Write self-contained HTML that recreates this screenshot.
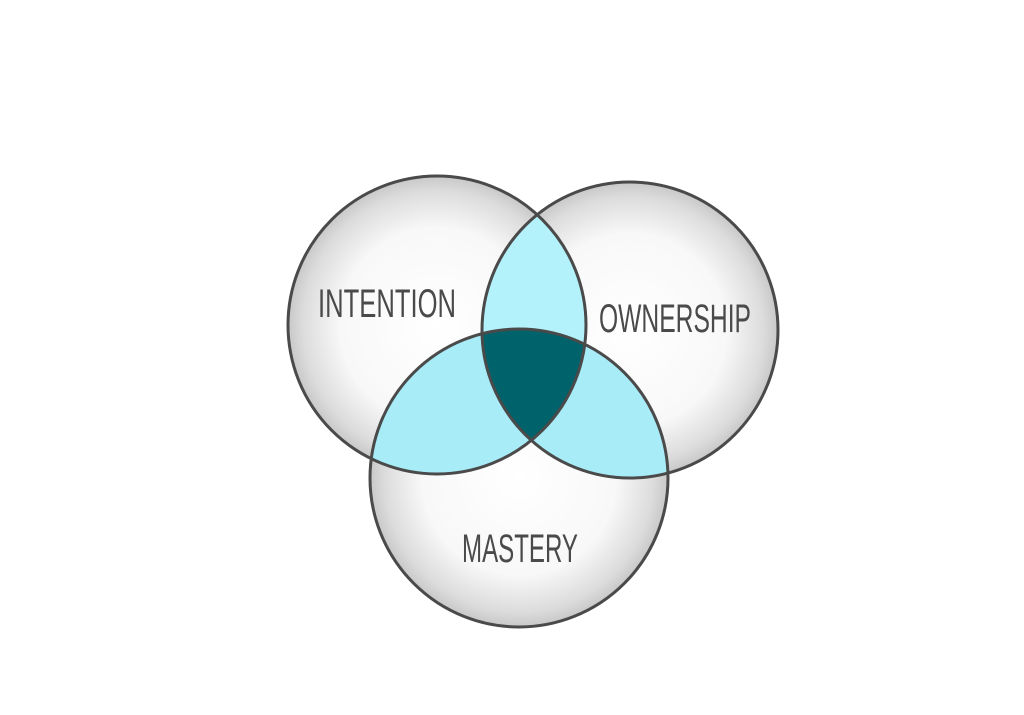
<!DOCTYPE html>
<html><head><meta charset="utf-8"><style>html,body{margin:0;padding:0;background:#fff}svg{display:block}</style></head>
<body>
<svg width="1024" height="715" viewBox="0 0 1024 715" xmlns="http://www.w3.org/2000/svg">
<defs>
<radialGradient id="g" cx="50%" cy="50%" r="50%">
<stop offset="0" stop-color="#ffffff"/><stop offset="0.65" stop-color="#f8f8f8"/><stop offset="0.9" stop-color="#dcdcdc"/><stop offset="1" stop-color="#c8c8c8"/>
</radialGradient>
<clipPath id="cA"><circle cx="437" cy="325" r="149"/></clipPath>
<clipPath id="cB"><circle cx="630" cy="330" r="148"/></clipPath>
<clipPath id="cC"><circle cx="519" cy="478" r="149"/></clipPath>
</defs>
<circle cx="437" cy="325" r="149" fill="url(#g)"/>
<circle cx="630" cy="330" r="148" fill="url(#g)"/>
<circle cx="519" cy="478" r="149" fill="url(#g)"/>
<g clip-path="url(#cA)"><circle cx="630" cy="330" r="148" fill="#b3f1fb"/><circle cx="519" cy="478" r="149" fill="#a8ecf8"/></g>
<g clip-path="url(#cB)"><circle cx="519" cy="478" r="149" fill="#a8ecf8"/></g>
<g clip-path="url(#cA)"><g clip-path="url(#cB)"><circle cx="519" cy="478" r="149" fill="#00626a"/></g></g>
<g fill="none" stroke="#4a4a4a" stroke-width="3">
<circle cx="437" cy="325" r="149"/><circle cx="630" cy="330" r="148"/><circle cx="519" cy="478" r="149"/>
</g>
<g font-family="Liberation Sans, sans-serif" fill="#4a4a4a" font-size="40" text-anchor="middle">
<text x="387" y="317" textLength="138" lengthAdjust="spacingAndGlyphs">INTENTION</text>
<text x="675" y="332" textLength="152" lengthAdjust="spacingAndGlyphs">OWNERSHIP</text>
<text x="520" y="562" textLength="116" lengthAdjust="spacingAndGlyphs">MASTERY</text>
</g>
</svg>
</body></html>
